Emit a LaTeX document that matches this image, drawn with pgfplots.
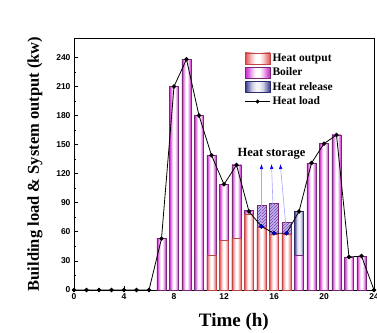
\documentclass[border=0pt]{standalone}
\usepackage{pgfplots}
\pgfplotsset{compat=1.18}
\usepackage{fontspec}
\setmainfont{Liberation Serif}
\newfontfamily\sansf{Liberation Sans}
\usetikzlibrary{patterns,arrows.meta}

\definecolor{magE}{RGB}{205,40,205}
\definecolor{magO}{RGB}{120,40,120}
\definecolor{redE}{RGB}{228,70,70}
\definecolor{redO}{RGB}{190,70,70}
\definecolor{bluE}{RGB}{50,50,140}
\definecolor{bluO}{RGB}{45,45,110}
\definecolor{stoF}{RGB}{200,180,235}
\definecolor{stoL}{RGB}{110,70,180}

\pgfdeclarehorizontalshading{magbar}{100bp}{color(0bp)=(magE); color(25bp)=(magE); color(31bp)=(magE!75); color(39bp)=(magE!30); color(46bp)=(white); color(54bp)=(white); color(61bp)=(magE!30); color(69bp)=(magE!75); color(75bp)=(magE); color(100bp)=(magE)}
\pgfdeclarehorizontalshading{redbar}{100bp}{color(0bp)=(redE); color(25bp)=(redE); color(31bp)=(redE!65); color(39bp)=(redE!25); color(46bp)=(white); color(54bp)=(white); color(61bp)=(redE!25); color(69bp)=(redE!65); color(75bp)=(redE); color(100bp)=(redE)}
\pgfdeclarehorizontalshading{blubar}{100bp}{color(0bp)=(bluE); color(25bp)=(bluE); color(32bp)=(bluE!60); color(40bp)=(bluE!20); color(47bp)=(bluE!6); color(53bp)=(bluE!6); color(60bp)=(bluE!20); color(68bp)=(bluE!60); color(75bp)=(bluE); color(100bp)=(bluE)}

\pgfplotsset{
  magB/.style={ybar, bar shift=0pt, draw=magO, line width=0.6pt, shading=magbar, forget plot},
  redB/.style={ybar, bar shift=0pt, draw=redO, line width=0.6pt, shading=redbar, forget plot},
  bluB/.style={ybar, bar shift=0pt, draw=bluO, line width=0.6pt, shading=blubar, forget plot},
  stoB/.style={ybar, bar shift=0pt, draw=magO, line width=0.6pt, fill=stoF,
     postaction={pattern=north east lines, pattern color=stoL}, forget plot},
}

\begin{document}
\begin{tikzpicture}
\begin{axis}[
  scale only axis,
  width=300pt, height=252pt,
  xmin=0, xmax=24, ymin=0, ymax=260,
  xtick={0,4,...,24}, ytick={0,30,...,240},
  minor x tick num=1, minor y tick num=1,
  tick align=inside,
  xtick pos=left, ytick pos=left,
  major tick length=4pt, minor tick length=2pt,
  axis line style={line width=0.9pt},
  every tick/.style={black, line width=0.7pt},
  /pgf/number format/assume math mode=true,
  ticklabel style={font=\sansf\bfseries\fontsize{8.5}{10}\selectfont},
  xlabel={Time (h)},
  ylabel={Building load \& System output (kw)},
  every axis x label/.style={at={(axis description cs:0.533,-0.127)}, anchor=center, font=\bfseries\fontsize{19}{22}\selectfont},
  every axis y label/.style={at={(axis description cs:-0.13,0.5)}, rotate=90, anchor=center, font=\bfseries\fontsize{16.5}{19}\selectfont},
  legend style={at={(0.565,0.95)}, anchor=north west, draw=none, fill=none,
    font=\bfseries\fontsize{11.5}{13}\selectfont, row sep=1pt, inner sep=1pt},
  legend cell align=left,
  bar width=0.75,
]
% legend entries
\addlegendimage{legend image code/.code={\draw[draw=redO, shading=redbar] (0pt,-5.5pt) rectangle (25pt,5.5pt);}}
\addlegendentry{Heat output}
\addlegendimage{legend image code/.code={\draw[draw=magO, shading=magbar] (0pt,-5.5pt) rectangle (25pt,5.5pt);}}
\addlegendentry{Boiler}
\addlegendimage{legend image code/.code={\draw[draw=bluO, shading=blubar] (0pt,-5.5pt) rectangle (25pt,5.5pt);}}
\addlegendentry{Heat release}
\addlegendimage{legend image code/.code={\draw[black, line width=0.8pt] (0pt,0pt) -- (25pt,0pt); \fill[black] (12.5pt,0pt) circle (1.8pt);}}
\addlegendentry{Heat load}

% Boiler (bar tops where the boiler is the top segment)
\addplot[magB] coordinates {(7,53)};
\addplot[magB] coordinates {(8,210)};
\addplot[magB] coordinates {(9,238)};
\addplot[magB] coordinates {(10,180)};
\addplot[magB] coordinates {(11,139)};
\addplot[magB] coordinates {(12,109)};
\addplot[magB] coordinates {(13,129)};
\addplot[magB] coordinates {(14,82)};
\addplot[magB] coordinates {(19,131)};
\addplot[magB] coordinates {(20,151)};
\addplot[magB] coordinates {(21,160)};
\addplot[magB] coordinates {(22,34)};
\addplot[magB] coordinates {(23,35)};
% Heat release (top of stack at 18)
\addplot[bluB] coordinates {(18,81)};
% Heat storage (hatched)
\addplot[stoB] coordinates {(15,87)};
\addplot[stoB] coordinates {(16,89.5)};
\addplot[stoB] coordinates {(17,69.5)};
% Heat output
\addplot[redB] coordinates {(11,35.5)};
\addplot[redB] coordinates {(12,51)};
\addplot[redB] coordinates {(13,53.5)};
\addplot[redB] coordinates {(14,78)};
\addplot[redB] coordinates {(15,65)};
\addplot[redB] coordinates {(16,57.5)};
\addplot[redB] coordinates {(17,57.5)};
% Boiler at bottom of 18
\addplot[magB] coordinates {(18,35.5)};

% arrows
\draw[blue!35, line width=0.6pt, -{Latex[color=blue, length=5pt, width=3.5pt]}] (axis cs:15,66) -- (axis cs:15,130);
\draw[blue!35, line width=0.6pt, -{Latex[color=blue, length=5pt, width=3.5pt]}] (axis cs:16,59) -- (axis cs:15.8,130);
\draw[blue!35, line width=0.6pt, -{Latex[color=blue, length=5pt, width=3.5pt]}] (axis cs:17,59) -- (axis cs:16.5,130);

% Heat load
\addplot[black, line width=0.8pt, mark=*, mark size=1.8pt, forget plot] coordinates {
(0,0) (1,0) (2,0) (3,0) (4,0) (5,0) (6,0) (7,53) (8,210) (9,238) (10,180) (11,139)
(12,109) (13,129) (14,81) (15,65.5) (16,58.5) (17,58.5) (18,81) (19,131) (20,151)
(21,160) (22,34) (23,35) (24,0)};
\addplot[only marks, mark=*, mark size=1.9pt, blue!80!black, forget plot] coordinates {
(15,65.5) (16,58.5) (17,58.5)};

\node[font=\bfseries\fontsize{12.5}{14}\selectfont] at (axis cs:15.8,141) {Heat storage};
\node[font=\bfseries\fontsize{20}{23}\selectfont] at (axis description cs:-0.16,1.067) {(b)};
\coordinate (O) at (rel axis cs:0,0);
\end{axis}
\pgfresetboundingbox
\path (O) ++(-74pt,-42pt) rectangle ++(377pt,332pt);
\end{tikzpicture}
\end{document}
